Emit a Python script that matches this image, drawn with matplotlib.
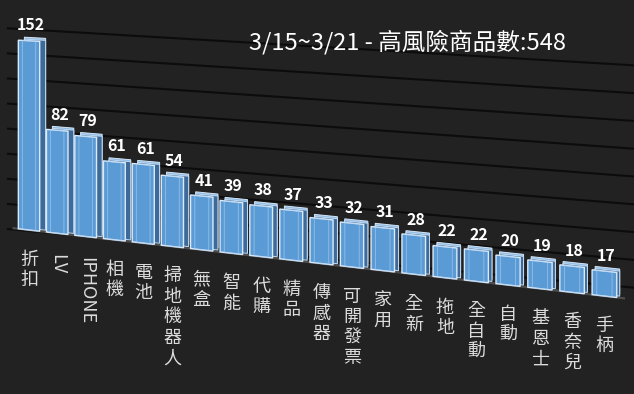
import numpy as np
import matplotlib
matplotlib.use("Agg")
import matplotlib.pyplot as plt
import matplotlib.transforms as mtransforms

categories = ["折扣", "LV", "IPHONE", "相機", "電池", "掃地機器人", "無盒", "智能", "代購", "精品",
              "傳感器", "可開發票", "家用", "全新", "拖地", "全自動", "自動", "基恩士", "香奈兒", "手柄"]
values = [152, 82, 79, 61, 61, 54, 41, 39, 38, 37, 33, 32, 31, 28, 22, 22, 20, 19, 18, 17]
grid_ticks = [0, 20, 40, 60, 80, 100, 120, 140, 160]
title = "3/15~3/21 - 高風險商品數:548"

W, H = 634, 394
plt.rcParams['font.family'] = ['Noto Sans CJK TC', 'DejaVu Sans']


class Persp(mtransforms.Transform):
    """Fake 3D perspective: bar index / value -> figure fraction."""
    input_dims = 2
    output_dims = 2
    is_separable = False
    has_inverse = False

    def __init__(self, x0, a, b, y0, slope, k0, k1):
        super().__init__()
        self.p = (x0, a, b, y0, slope, k0, k1)

    def transform_non_affine(self, values):
        xy = np.asarray(values, dtype=float).reshape(-1, 2)
        x0, a, b, y0, slope, k0, k1 = self.p
        i, v = xy[:, 0], xy[:, 1]
        d = a * i + b * i * i
        px = x0 + d
        py = y0 + slope * d - v * (k0 + k1 * d)
        return np.column_stack([px / W, 1 - py / H])


fig = plt.figure(figsize=(W / 100, H / 100), dpi=100, facecolor="#222222")
ax = fig.add_axes([0, 0, 1, 1])
ax.set_axis_off()

front = Persp(29, 28.1, 0.115, 230, 0.1148, 1.245, 0.000391) + fig.transFigure
back_top = Persp(35, 28.1 - 3 / 19, 0.115, 227, 0.1148, 1.245, 0.000391) + fig.transFigure
back_side = Persp(35, 28.1 - 3 / 19, 0.115, 229, 0.1148, 1.245, 0.000391) + fig.transFigure
wall = Persp(29, 28.1, 0.115, 231, 0.0937, 1.259, 0.000216) + fig.transFigure

idx = np.arange(len(values))

# back wall gridlines
for g in grid_ticks:
    ax.plot([-0.75, 21.5], [g, g], transform=wall, color="#0c0c0c", lw=1.5,
            clip_on=False, zorder=0.2)

# floor edge
ax.plot([-0.55, 19.6], [0, 0], transform=front, color="#4d4d4d", lw=1.6,
        clip_on=False, zorder=0.3)

w = 0.76
ax.bar(idx, values, width=w, transform=back_top, color="#8fbbe6", edgecolor="#d6e8f8",
       lw=0.7, clip_on=False, zorder=1)
ax.bar(idx, values, width=w, transform=back_side, color="#3d6a98", edgecolor="#c4dcf3",
       lw=0.7, clip_on=False, zorder=1.1)
ax.bar(idx, values, width=w, transform=front, color="#5b9bd5", edgecolor="#dbeafa",
       lw=1.0, clip_on=False, zorder=1.2)
ax.bar(idx, values, width=w * 0.62, transform=front, facecolor="none", edgecolor="#a9cdf0",
       lw=0.7, alpha=0.6, clip_on=False, zorder=1.3)

for i, v in enumerate(values):
    ax.annotate(str(v), xy=(i, v), xycoords=front, xytext=(1.5, 7.5),
                textcoords="offset points", ha="center", va="baseline",
                fontsize=11.5, fontweight="bold", color="white", annotation_clip=False)

for i, c in enumerate(categories):
    if c.isascii():
        txt, rot = c, -90
    else:
        txt, rot = "\n".join(c), 0
    ax.annotate(txt, xy=(i, 0), xycoords=front, xytext=(0, -15),
                textcoords="offset points", ha="center", va="top", rotation=rot,
                fontsize=13, color="#dcdcdc", linespacing=1.18, annotation_clip=False)

fig.text(0.642, 0.893, title, ha="center", va="center", fontsize=17,
         fontweight="medium", color="white")

fig.savefig("out.png", dpi=100, facecolor=fig.get_facecolor())
